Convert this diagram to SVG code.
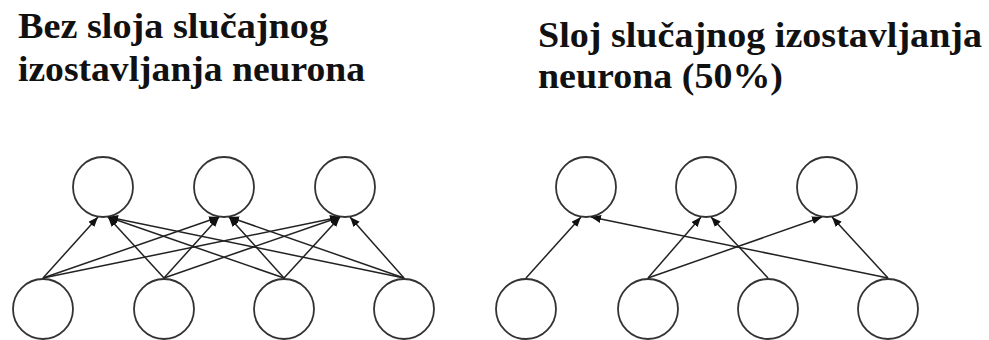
<svg xmlns="http://www.w3.org/2000/svg" width="989" height="340" viewBox="0 0 989 340">
<defs>
<style>
.t{font-family:"Liberation Serif","Times New Roman",serif;font-weight:bold;font-size:36px;fill:#111}
.n{fill:#fff;stroke:#333;stroke-width:1.8}
.c line{stroke:#222;stroke-width:1.5;marker-end:url(#ah)}
</style>
<marker id="ah" markerUnits="userSpaceOnUse" markerWidth="12" markerHeight="10" refX="10" refY="4" orient="auto">
<path d="M0,0 L10,4 L0,8 z" fill="#111"/>
</marker>
</defs>
<rect width="989" height="340" fill="#fff"/>
<g id="title-left">
<text class="t" x="18" y="38" textLength="310" lengthAdjust="spacingAndGlyphs">Bez sloja slučajnog</text>
<text class="t" x="18" y="81" textLength="347" lengthAdjust="spacingAndGlyphs">izostavljanja neurona</text>
</g>
<g id="title-right">
<text class="t" x="538" y="47" textLength="444" lengthAdjust="spacingAndGlyphs">Sloj slučajnog izostavljanja</text>
<text class="t" x="538" y="88" textLength="245" lengthAdjust="spacingAndGlyphs">neurona (50%)</text>
</g>
<g id="left-top-1"><circle class="n" cx="103" cy="187" r="30"/></g>
<g id="left-top-2"><circle class="n" cx="224" cy="187" r="30"/></g>
<g id="left-top-3"><circle class="n" cx="345" cy="187" r="30"/></g>
<g id="left-bottom-1"><circle class="n" cx="43" cy="309" r="30"/></g>
<g id="left-bottom-2"><circle class="n" cx="164" cy="309" r="30"/></g>
<g id="left-bottom-3"><circle class="n" cx="284" cy="309" r="30"/></g>
<g id="left-bottom-4"><circle class="n" cx="404" cy="309" r="30"/></g>
<g id="right-top-1"><circle class="n" cx="586" cy="187" r="30"/></g>
<g id="right-top-2"><circle class="n" cx="706" cy="187" r="30"/></g>
<g id="right-top-3"><circle class="n" cx="827" cy="187" r="30"/></g>
<g id="right-bottom-1"><circle class="n" cx="526" cy="309" r="30"/></g>
<g id="right-bottom-2"><circle class="n" cx="648" cy="309" r="30"/></g>
<g id="right-bottom-3"><circle class="n" cx="768" cy="309" r="30"/></g>
<g id="right-bottom-4"><circle class="n" cx="888" cy="309" r="30"/></g>
<g id="connectors" class="c">
<line x1="43" y1="278" x2="98" y2="217"/>
<line x1="164" y1="278" x2="108" y2="217"/>
<line x1="284" y1="278" x2="108" y2="217"/>
<line x1="404" y1="278" x2="108" y2="217"/>
<line x1="43" y1="278" x2="219" y2="217"/>
<line x1="164" y1="278" x2="219" y2="217"/>
<line x1="284" y1="278" x2="229" y2="217"/>
<line x1="404" y1="278" x2="229" y2="217"/>
<line x1="43" y1="278" x2="340" y2="217"/>
<line x1="164" y1="278" x2="340" y2="217"/>
<line x1="284" y1="278" x2="340" y2="217"/>
<line x1="404" y1="278" x2="350" y2="217"/>
<line x1="526" y1="278" x2="581" y2="217"/>
<line x1="888" y1="278" x2="591" y2="217"/>
<line x1="648" y1="278" x2="701" y2="217"/>
<line x1="768" y1="278" x2="711" y2="217"/>
<line x1="648" y1="278" x2="822" y2="217"/>
<line x1="888" y1="278" x2="832" y2="217"/>
</g>
</svg>
